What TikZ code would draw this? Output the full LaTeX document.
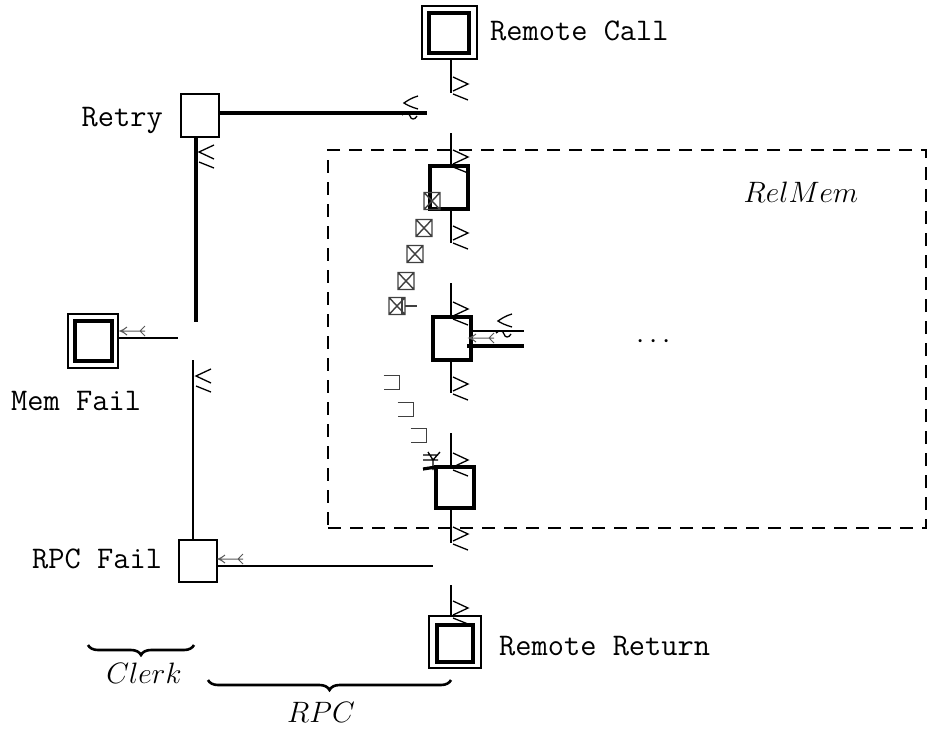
\RequirePackage{fix-cm}
\documentclass[tikz,border=0pt]{standalone}
\usetikzlibrary{decorations.pathreplacing}
\begin{document}
\begin{tikzpicture}[x=1pt,y=-1pt,
  thinline/.style={line width=2.1pt},
  thickline/.style={line width=3.2pt},
  outerbox/.style={draw,line width=2.1pt,rectangle,inner sep=0pt,outer sep=0pt},
  innerbox/.style={draw,line width=3.4pt,rectangle,inner sep=0pt,outer sep=0pt},
  plainbox/.style={draw,line width=2.1pt,rectangle,inner sep=0pt,outer sep=0pt},
  heavybox/.style={draw,line width=3.2pt,rectangle,inner sep=0pt,outer sep=0pt},
  ttlabel/.style={inner sep=0pt,font=\fontsize{31.5}{37}\selectfont\ttfamily},
  itlabel/.style={inner sep=0pt,font=\fontsize{29.5}{34}\selectfont},
  markline/.style={line width=1.3pt},
  xline/.style={line width=1.4pt,black!75},
  tailline/.style={line width=1pt,black!65},
  bracestyle/.style={line width=2.6pt,decorate,decoration={brace,mirror,amplitude=10pt}},
  geqmark/.pic={\draw[markline] (0,0)--(15,7)--(0,14) (0,17)--(15,23);},
  leqmark/.pic={\draw[markline] (15,0)--(0,7)--(15,14) (0,17)--(15,23);},
  curlmark/.pic={\draw[markline] (14,-17) .. controls (7,-15) and (3,-12) .. (0,-10)
                   .. controls (3,-8) and (7,-6) .. (14,-4);
                 \draw[markline] (-2,2) .. controls (1,-1) and (5,-1) .. (6,3)
                   .. controls (7,7) and (11,7) .. (13,3);},
  tailmark/.pic={\draw[tailline] (0,0)--(25,0)
                   (7,-4) .. controls (3,-1) .. (0,0) .. controls (3,1) .. (7,4)
                   (25,-5) -- (20,0) -- (25,5);},
  xboxmark/.pic={\draw[xline] (-8,-8.5) rectangle (8,8.5) (-8,-8.5)--(8,8.5) (-8,8.5)--(8,-8.5);},
  sqmark/.pic={\draw[xline] (-8,-7) -- (8,-7) -- (8,7) -- (-8,7);}
]
\useasboundingbox (0,0) rectangle (928,728);

% RelMem region
\node[draw,dashed,line width=2.2pt,dash pattern=on 13pt off 9pt,rectangle,inner sep=0pt,
      minimum width=598,minimum height=378] (relmem) at (627,339) {};
\node[itlabel,anchor=base] (relmemL) at (801,202) {$RelMem$};
\node[itlabel] (dots) at (654,342) {$\cdots$};

% remote call / return
\node[outerbox,minimum width=55,minimum height=53] (rcallO) at (449.5,32.5) {};
\node[innerbox,minimum width=40,minimum height=40] (rcall) at (449,33) {};
\node[ttlabel,anchor=base west] (rcallL) at (490,40) {Remote Call};
\node[outerbox,minimum width=52,minimum height=52] (rretO) at (455,642) {};
\node[innerbox,minimum width=36,minimum height=37] (rret) at (455,643.5) {};
\node[ttlabel,anchor=base west] (rretL) at (499,655) {Remote Return};

% clerk side
\node[plainbox,minimum width=38,minimum height=43] (retry) at (200,115.5) {};
\node[ttlabel,anchor=base east] (retryL) at (163,126) {Retry};
\node[outerbox,minimum width=50,minimum height=54] (memO) at (93,341) {};
\node[innerbox,minimum width=37,minimum height=40] (mem) at (93.5,341) {};
\node[ttlabel,anchor=base west] (memL) at (11,410) {Mem Fail};
\node[plainbox,minimum width=38,minimum height=42] (rpcfail) at (198,561) {};
\node[ttlabel,anchor=base west] (rpcfailL) at (32,568) {RPC Fail};

% the three inner steps
\node[heavybox,minimum width=38,minimum height=43] (box1) at (449,187.5) {};
\node[heavybox,minimum width=38,minimum height=43] (box2) at (452,338.5) {};
\node[heavybox,minimum width=38,minimum height=41] (box3) at (455,487.5) {};
\draw[line width=4.2pt] (box3.north east) -- (box3.south east);

% free ends of the connectors
\coordinate (g0) at (451,93);
\coordinate (g1) at (451,133);
\coordinate (g2) at (451,243);
\coordinate (g3) at (451,283);
\coordinate (g4) at (451,393);
\coordinate (g5) at (451,433);
\coordinate (g6) at (451,543);
\coordinate (g7) at (451,585);
\coordinate (rtEnd) at (427,113);
\coordinate (rvEnd) at (196,322);
\coordinate (lvTop) at (193,360);
\coordinate (mfEnd) at (178,338);
\coordinate (rfEnd) at (433,566);
\coordinate (b2a) at (524,331);
\coordinate (b2b) at (524,346);

% main column
\draw[thinline] (rcallO.south -| g0) -- (g0);
\draw[thinline] (g1) -- (box1.north -| g1);
\draw[thinline] ([yshift=-2pt]box1.south -| g2) -- (g2);
\draw[thinline] (g3) -- (box2.north -| g3);
\draw[thinline] ([yshift=-2pt]box2.south -| g4) -- (g4);
\draw[thinline] (g5) -- (box3.north -| g5);
\draw[thinline] ([yshift=-2pt]box3.south -| g6) -- (g6);
\draw[thinline] (g7) -- (rretO.north -| g7);
\foreach \yy in {77,150,226,302,377,453,527,601}
  \pic at (453,\yy) {geqmark};

% retry / failure paths
\draw[thickline] (retry.east |- rtEnd) -- (rtEnd);
\pic at (404,113) {curlmark};
\draw[thickline] (retry.south -| rvEnd) -- (rvEnd);
\pic at (199,145) {leqmark};
\draw[thinline] (lvTop) -- (rpcfail.north -| lvTop);
\pic at (196,369) {leqmark};
\draw[thinline] (memO.east |- mfEnd) -- (mfEnd);
\pic at (120,331) {tailmark};
\draw[thinline] (rpcfail.east |- rfEnd) -- (rfEnd);
\pic at (218,559) {tailmark};

% box 2 side exits
\draw[thinline] (box2.east |- b2a) -- (b2a);
\draw[thickline] ([xshift=-4pt]box2.east |- b2b) -- (b2b);
\pic at (498,331) {curlmark};
\pic at (469,338) {tailmark};

% box 3 entry clutter
\draw[thickline] (423,469) -- (box3.north west);
\draw[markline] (423,455) -- (438,455) (423,460) -- (438,460)
  (428,452) -- (433,460) -- (440,452) (433,460) -- (433,470);

% crossed boxes and corner marks
\foreach \cx/\cy in {432/201,424/228,415/254,406/281,397/306}
  \pic at (\cx,\cy) {xboxmark};
\draw[xline] (402,297) -- (402,315) (405,306) -- (417,306);
\foreach \cx/\cy in {391.5/382.5,405.5/409.5,418.5/435.5}
  \pic at (\cx,\cy) {sqmark};

% braces
\coordinate (clA) at (88,645);
\coordinate (clB) at (194,645);
\coordinate (rpA) at (208,680);
\coordinate (rpB) at (451,680);
\draw[bracestyle] (clA) -- (clB);
\draw[bracestyle] (rpA) -- (rpB);
\node[itlabel,anchor=base] (clerkL) at (144,683) {$Clerk$};
\node[itlabel,anchor=base] (rpcL) at (321,722) {$RPC$};
\end{tikzpicture}
\end{document}
